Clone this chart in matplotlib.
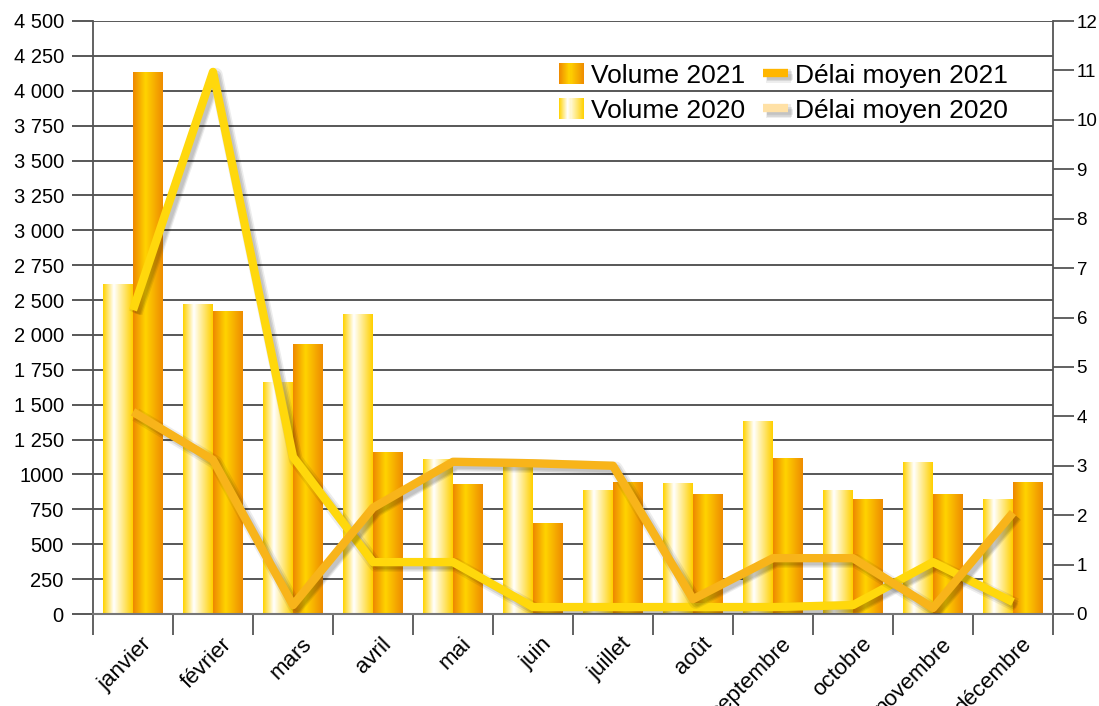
import numpy as np
import matplotlib
matplotlib.use('Agg')
import matplotlib.pyplot as plt
import matplotlib.patheffects as pe
import matplotlib.transforms as mtransforms
from matplotlib.colors import LinearSegmentedColormap
from matplotlib.legend_handler import HandlerBase
from matplotlib.patches import Rectangle
from matplotlib.lines import Line2D

plt.rcParams['font.family'] = ['Liberation Sans', 'DejaVu Sans']

# ── data ─────────────────────────────────────────────────────────────────────
months = ["janvier", "février", "mars", "avril", "mai", "juin", "juillet",
          "août", "septembre", "octobre", "novembre", "décembre"]

vol_2020 = [2615, 2430, 1660, 2300, 1104, 1075, 882, 932, 1383, 882, 1089, 824]
vol_2021 = [4134, 2343, 1928, 1154, 925, 652, 946, 860, 1111, 824, 860, 946]

delai_2020 = [6.15, 10.97, 3.18, 1.05, 1.05, 0.14, 0.14, 0.14, 0.14, 0.18, 1.05, 0.24]
delai_2021 = [4.09, 3.12, 0.18, 2.15, 3.08, 3.05, 3.0, 0.3, 1.13, 1.13, 0.12, 2.05]

# left axis as printed (note: the source skips "2 250")
left_tick_values = [0, 250, 500, 750, 1000, 1250, 1500, 1750, 2000,
                    2500, 2750, 3000, 3250, 3500, 3750, 4000, 4250, 4500]
left_tick_labels = ["0", "250", "500", "750", "1000", "1 250", "1 500", "1 750",
                    "2 000", "2 500", "2 750", "3 000", "3 250", "3 500",
                    "3 750", "4 000", "4 250", "4 500"]
right_ticks = list(range(13))

# ── styles ───────────────────────────────────────────────────────────────────
cmap_2021 = LinearSegmentedColormap.from_list(
    "v21", [(0, "#EE8800"), (0.42, "#FFD300"), (1, "#EE8C00")])
cmap_2020 = LinearSegmentedColormap.from_list(
    "v20", [(0, "#FFD200"), (0.36, "#FFFFFF"), (0.7, "#FFE777"), (1, "#FFD000")])
c_line_2020 = "#FFD80C"
c_line_2021 = "#F8B41A"
grid_col = "#4a4a4a"

# positions of the printed ticks on the axis (equally spaced)
tick_pos = np.arange(len(left_tick_values)) * 250.0
pos_2020 = np.interp(vol_2020, left_tick_values, tick_pos)
pos_2021 = np.interp(vol_2021, left_tick_values, tick_pos)

fig = plt.figure(figsize=(10.99, 7.06), dpi=100)
ax = fig.add_axes([93/1099, 1 - 614/706, 960/1099, 593/706])
ax.set_axisbelow(True)

x = np.arange(len(months))
w = 0.375
bars20 = ax.bar(x - w/2, pos_2020, w, facecolor="none", edgecolor="none")
bars21 = ax.bar(x + w/2, pos_2021, w, facecolor="none", edgecolor="none")

grad = np.linspace(0, 1, 64)[np.newaxis, :]
for bars, cm in ((bars20, cmap_2020), (bars21, cmap_2021)):
    for r in bars:
        x0, y0 = r.get_x(), r.get_y()
        ax.imshow(grad, cmap=cm, aspect="auto", zorder=2,
                  extent=[x0, x0 + r.get_width(), y0, y0 + r.get_height()])

ax.set_xlim(-0.5, len(months) - 0.5)
ax.set_ylim(0, tick_pos[-1])
ax.set_yticks(tick_pos)
ax.set_yticklabels(left_tick_labels, fontsize=14.5)
ax.yaxis.grid(True, color=grid_col, lw=1.3)
ax.tick_params(axis="y", direction="out", length=15, width=1.3,
               color=grid_col, pad=6)

ax.set_xticks(np.arange(len(months) + 1) - 0.5, minor=True)
ax.set_xticks(x)
ax.set_xticklabels(months, rotation=45, ha="right", rotation_mode="anchor",
                   fontsize=16)
ax.tick_params(axis="x", which="major", length=0, pad=14)
ax.tick_params(axis="x", which="minor", direction="out", length=15,
               width=1.3, color="#555555")
shift = mtransforms.ScaledTranslation(8/100, 0, fig.dpi_scale_trans)
for lab in ax.get_xticklabels():
    lab.set_transform(lab.get_transform() + shift)

for s in ("left", "right"):
    ax.spines[s].set_color("#555555")
    ax.spines[s].set_linewidth(1.3)
ax.spines["bottom"].set_color("#777777")
ax.spines["bottom"].set_linewidth(1.5)
ax.spines["top"].set_visible(False)

# ── lines on right axis ──────────────────────────────────────────────────────
ax2 = ax.twinx()
ax2.set_ylim(0, 12)
ax2.set_yticks(right_ticks)
ax2.tick_params(axis="y", direction="out", length=15, width=1.3,
                color="#555555", labelsize=13.5, pad=2)
for s in ("left", "right", "bottom", "top"):
    ax2.spines[s].set_visible(False)

# soft drop shadow
shadow = [pe.SimpleLineShadow(offset=(2, -2), shadow_color="k", alpha=0.07, linewidth=10),
          pe.SimpleLineShadow(offset=(2.5, -2.5), shadow_color="k", alpha=0.1, linewidth=7),
          pe.SimpleLineShadow(offset=(3, -3), shadow_color="k", alpha=0.08, linewidth=4),
          pe.Normal()]
ax2.plot(x, delai_2020, color=c_line_2020, lw=6, solid_joinstyle="round",
         solid_capstyle="butt", path_effects=shadow, zorder=3)
ax2.plot(x, delai_2021, color=c_line_2021, lw=6, solid_joinstyle="round",
         solid_capstyle="butt", path_effects=shadow, zorder=4)


# ── legend ───────────────────────────────────────────────────────────────────
class GradientHandler(HandlerBase):
    def __init__(self, cmap):
        super().__init__()
        self.cmap = cmap

    def create_artists(self, legend, orig_handle, xdescent, ydescent,
                       width, height, fontsize, trans):
        n = 24
        arts = []
        for i in range(n):
            arts.append(Rectangle((-xdescent + i * width / n, -ydescent),
                                  width / n + 0.3, height,
                                  facecolor=self.cmap((i + 0.5) / n),
                                  edgecolor="none", transform=trans))
        return arts


h_v21 = Rectangle((0, 0), 1, 1)
h_v20 = Rectangle((0, 0), 1, 1)
h_d21 = Line2D([], [], color="#FFB600", lw=6, solid_capstyle="butt",
               path_effects=shadow)
h_d20 = Line2D([], [], color="#FFE1A6", lw=6, solid_capstyle="butt",
               path_effects=shadow)

ax2.legend([h_v21, h_v20, h_d21, h_d20],
           ["Volume 2021", "Volume 2020", "Délai moyen 2021", "Délai moyen 2020"],
           handler_map={h_v21: GradientHandler(cmap_2021),
                        h_v20: GradientHandler(cmap_2020)},
           ncol=2, frameon=False, fontsize=19, loc="upper left",
           bbox_to_anchor=(559/1099, 1 - 63/706), bbox_transform=fig.transFigure,
           borderpad=0, borderaxespad=0, handlelength=0.95, handleheight=0.85,
           handletextpad=0.25, columnspacing=0.7, labelspacing=0.4)

fig.savefig("out.png", dpi=100)
